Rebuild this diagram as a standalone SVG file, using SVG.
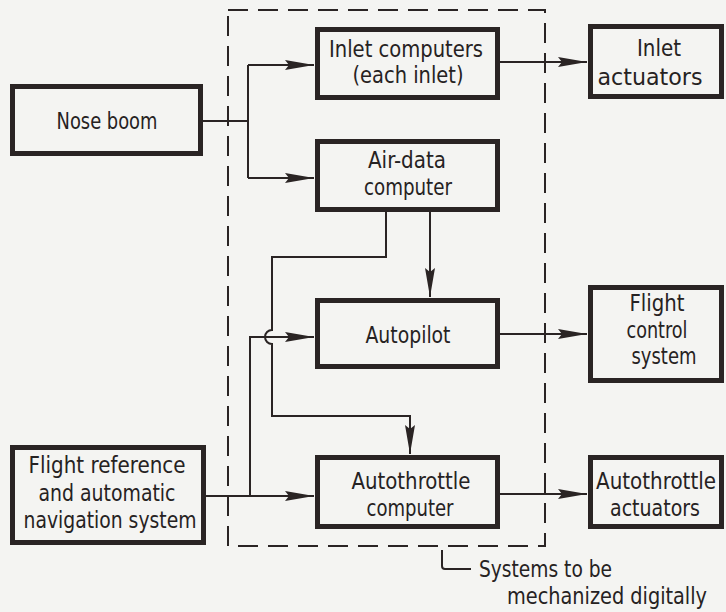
<svg xmlns="http://www.w3.org/2000/svg" width="726" height="612" viewBox="0 0 726 612">
  <style>
    .box { fill: none; stroke: #2a2424; stroke-width: 5; }
    .wire { fill: none; stroke: #2a2424; stroke-width: 2; }
    .dash { fill: none; stroke: #2a2424; stroke-width: 2; stroke-dasharray: 20 10; }
    text { font-family: "DejaVu Sans Condensed", "Liberation Sans", sans-serif; font-size: 23px; fill: #262222; text-anchor: middle; }
    .note { text-anchor: start; }
  </style>
  <defs>
    <marker id="arrow" markerUnits="userSpaceOnUse" markerWidth="32" markerHeight="14" viewBox="-30 -7 32 14" refX="0" refY="0" orient="auto">
      <path d="M0,0 L-29,-5 L-25,0 L-29,5 Z" fill="#2a2424"/>
    </marker>
  </defs>
  <rect width="726" height="612" fill="#f4f4f2"/>

  <!-- boundary of the digitally mechanized systems -->
  <rect class="dash" x="228" y="10" width="317" height="536"/>

  <g id="connectors">
    <path class="wire" d="M203,121 H248 M248,65 V178"/>
    <path class="wire" d="M248,65 H314" marker-end="url(#arrow)"/>
    <path class="wire" d="M248,178 H314" marker-end="url(#arrow)"/>
    <path class="wire" d="M500,62 H587" marker-end="url(#arrow)"/>
    <path class="wire" d="M430,212 V297" marker-end="url(#arrow)"/>
    <path class="wire" d="M386,212 V257 H272 V330 A7,7 0 0 0 272,344 V416 H410 V454" marker-end="url(#arrow)"/>
    <path class="wire" d="M206,496 H314" marker-end="url(#arrow)"/>
    <path class="wire" d="M250,496 V337 H314" marker-end="url(#arrow)"/>
    <path class="wire" d="M500,334 H587" marker-end="url(#arrow)"/>
    <path class="wire" d="M500,494 H587" marker-end="url(#arrow)"/>
  </g>

  <g id="nose-boom">
    <rect class="box" x="12.5" y="86.5" width="188" height="67"/>
    <text x="107" y="129" textLength="101" lengthAdjust="spacingAndGlyphs">Nose boom</text>
  </g>
  <g id="inlet-computers">
    <rect class="box" x="317.5" y="29.5" width="180" height="68"/>
    <text x="406" y="57" textLength="154" lengthAdjust="spacingAndGlyphs">Inlet computers</text>
    <text x="408" y="83" textLength="111" lengthAdjust="spacingAndGlyphs">(each inlet)</text>
  </g>
  <g id="inlet-actuators">
    <rect class="box" x="590.5" y="26.5" width="131" height="70"/>
    <text x="659" y="56" textLength="44" lengthAdjust="spacingAndGlyphs">Inlet</text>
    <text x="650" y="85" textLength="105" lengthAdjust="spacingAndGlyphs">actuators</text>
  </g>
  <g id="air-data-computer">
    <rect class="box" x="317.5" y="141.5" width="180" height="68"/>
    <text x="407" y="168" textLength="78" lengthAdjust="spacingAndGlyphs">Air-data</text>
    <text x="408" y="195" textLength="88" lengthAdjust="spacingAndGlyphs">computer</text>
  </g>
  <g id="autopilot">
    <rect class="box" x="317.5" y="300.5" width="180" height="66"/>
    <text x="408" y="343" textLength="85" lengthAdjust="spacingAndGlyphs">Autopilot</text>
  </g>
  <g id="flight-control-system">
    <rect class="box" x="590.5" y="287.5" width="131" height="93"/>
    <text x="657" y="311" textLength="55" lengthAdjust="spacingAndGlyphs">Flight</text>
    <text x="657" y="338" textLength="61" lengthAdjust="spacingAndGlyphs">control</text>
    <text x="664" y="364" textLength="65" lengthAdjust="spacingAndGlyphs">system</text>
  </g>
  <g id="flight-reference">
    <rect class="box" x="12.5" y="447.5" width="191" height="95"/>
    <text x="107" y="473" textLength="157" lengthAdjust="spacingAndGlyphs">Flight reference</text>
    <text x="107" y="501" textLength="137" lengthAdjust="spacingAndGlyphs">and automatic</text>
    <text x="110" y="528" textLength="173" lengthAdjust="spacingAndGlyphs">navigation system</text>
  </g>
  <g id="autothrottle-computer">
    <rect class="box" x="317.5" y="457.5" width="180" height="69"/>
    <text x="411" y="489" textLength="119" lengthAdjust="spacingAndGlyphs">Autothrottle</text>
    <text x="410" y="516" textLength="87" lengthAdjust="spacingAndGlyphs">computer</text>
  </g>
  <g id="autothrottle-actuators">
    <rect class="box" x="590.5" y="457.5" width="131" height="69"/>
    <text x="656" y="489" textLength="120" lengthAdjust="spacingAndGlyphs">Autothrottle</text>
    <text x="655" y="516" textLength="90" lengthAdjust="spacingAndGlyphs">actuators</text>
  </g>

  <g id="boundary-note">
    <path class="wire" d="M442,550 V566 Q442,569 445,569 H471"/>
    <text class="note" x="479" y="577" textLength="133" lengthAdjust="spacingAndGlyphs">Systems to be</text>
    <text class="note" x="507" y="604" textLength="200" lengthAdjust="spacingAndGlyphs">mechanized digitally</text>
  </g>
</svg>
